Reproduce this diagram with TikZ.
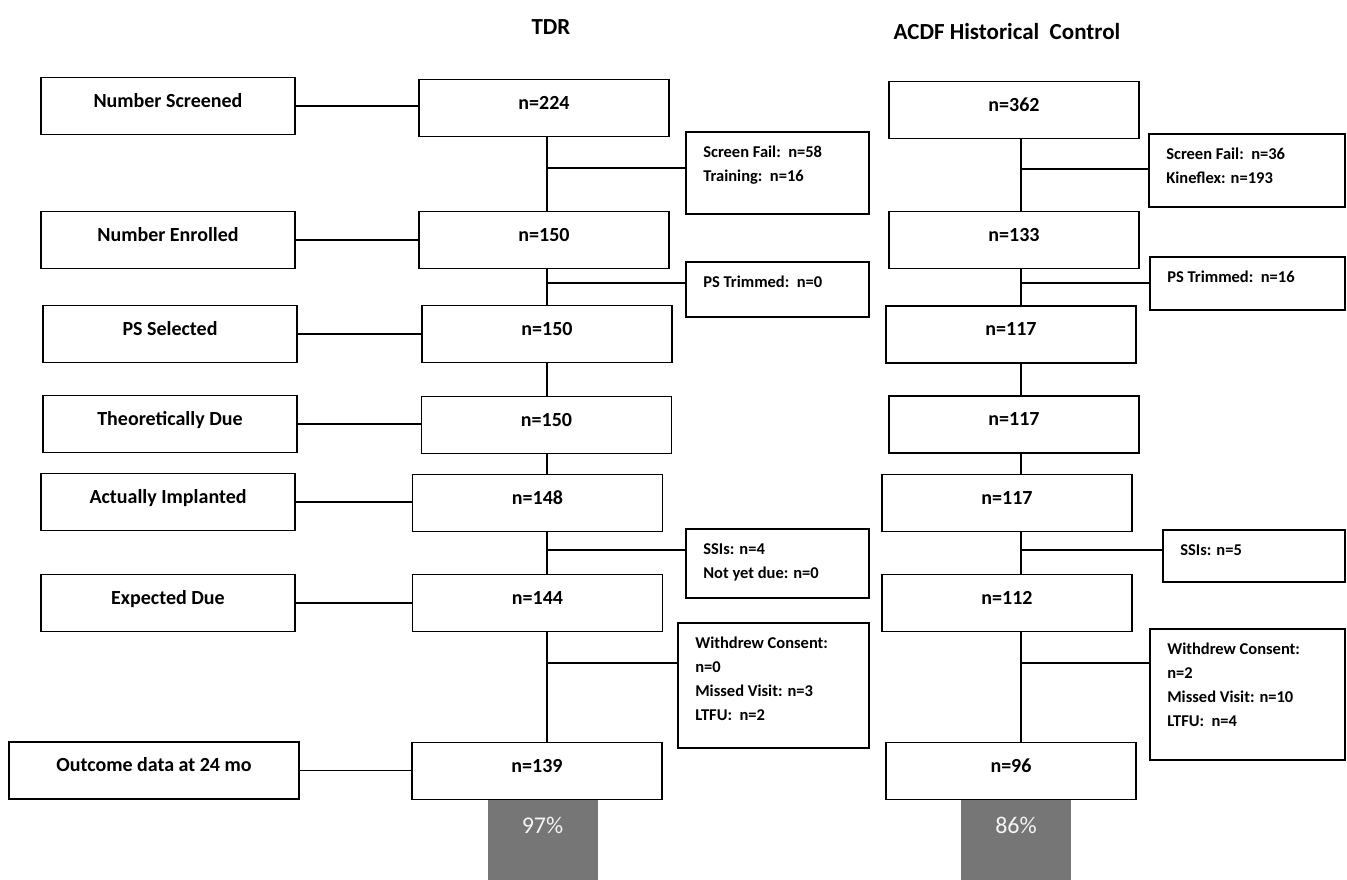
\documentclass[tikz,border=0pt]{standalone}
\usepackage{fontspec}
\setmainfont{Carlito}
\definecolor{barfill}{HTML}{767676}
\definecolor{pctfg}{HTML}{F4F4F4}

\tikzset{
  flowbox/.style={draw=black, line width=1.8pt, fill=white, inner sep=0pt,
    text height=13pt, text depth=10.2pt, font=\fontsize{20}{24}\selectfont\bfseries},
  stagebox/.style={flowbox, minimum width=254pt, minimum height=57pt},
  countbox/.style={flowbox, minimum width=250pt, minimum height=57pt},
  sidebox/.style={draw=black, line width=1.8pt, fill=white, inner sep=0pt},
  sidetext/.style={anchor=north west, inner sep=0pt, align=left, xshift=18pt, yshift=-15pt,
    font=\fontsize{16.5}{24}\selectfont\bfseries},
  pctbar/.style={fill=barfill, inner sep=0pt, minimum width=110pt, minimum height=81pt,
    text=pctfg, text height=15pt, text depth=27pt, font=\fontsize{24}{28}\selectfont},
  heading/.style={inner sep=0pt, font=\fontsize{23}{26}\selectfont\bfseries},
  link/.style={line width=1.8pt}
}

\begin{document}
\begin{tikzpicture}[x=1pt, y=-1pt]

  \fill[white] (0,0) rectangle (1347,880);

  % column headings
  \node[heading] (htdr) at (551,27) {TDR};
  \node[heading] (hacdf) at (1007,32) {ACDF Historical\ \ Control};

  % percentage bars under the last boxes
  \node[pctbar] (tp) at (542.5,839.5) {97\%};
  \node[pctbar] (ap) at (1016,839.5) {86\%};

  % stage labels
  \node[stagebox] (l1) at (168,106) {Number Screened};
  \node[stagebox] (l2) at (168,240) {Number Enrolled};
  \node[stagebox] (l3) at (170,334) {PS Selected};
  \node[stagebox] (l4) at (170,424) {Theoretically Due};
  \node[stagebox] (l5) at (168,502) {Actually Implanted};
  \node[stagebox] (l6) at (168,603) {Expected Due};
  \node[stagebox, minimum width=290pt] (l7) at (154,770.5) {Outcome data at 24 mo};

  % TDR counts
  \node[countbox] (t1) at (544,108) {n=224};
  \node[countbox] (t2) at (544,240) {n=150};
  \node[countbox] (t3) at (547,334) {n=150};
  \node[countbox] (t4) at (546.5,425) {n=150};
  \node[countbox] (t5) at (537.5,503) {n=148};
  \node[countbox] (t6) at (537.5,603) {n=144};
  \node[countbox] (t7) at (537,771) {n=139};

  % ACDF counts
  \node[countbox] (a1) at (1014,110) {n=362};
  \node[countbox] (a2) at (1014,240) {n=133};
  \node[countbox] (a3) at (1011,334.5) {n=117};
  \node[countbox] (a4) at (1014,424.5) {n=117};
  \node[countbox] (a5) at (1007,503) {n=117};
  \node[countbox] (a6) at (1007,603) {n=112};
  \node[countbox] (a7) at (1011,771) {n=96};

  % TDR exclusions
  \node[sidebox, minimum width=183pt, minimum height=82pt,
    label={[sidetext]north west:{Screen Fail:\ \ n=58\\Training:\ \ n=16}}] (s1) at (777.5,173) {};
  \node[sidebox, minimum width=183pt, minimum height=55pt,
    label={[sidetext]north west:{PS Trimmed:\ \ n=0}}] (s2) at (777.5,289.5) {};
  \node[sidebox, minimum width=183pt, minimum height=69pt,
    label={[sidetext]north west:{SSIs: n=4\\Not yet due: n=0}}] (s3) at (777.5,563.5) {};
  \node[sidebox, minimum width=191pt, minimum height=125pt,
    label={[sidetext]north west:{Withdrew Consent:\\n=0\\Missed Visit: n=3\\LTFU:\ \ n=2}}] (s4) at (773.5,685.5) {};

  % ACDF exclusions
  \node[sidebox, minimum width=196pt, minimum height=73pt,
    label={[sidetext]north west:{Screen Fail:\ \ n=36\\Kineflex: n=193}}] (r1) at (1247,170.5) {};
  \node[sidebox, minimum width=195pt, minimum height=53pt,
    label={[sidetext]north west:{PS Trimmed:\ \ n=16}}] (r2) at (1247.5,283.5) {};
  \node[sidebox, minimum width=182pt, minimum height=52pt,
    label={[sidetext]north west:{SSIs: n=5}}] (r3) at (1254,556) {};
  \node[sidebox, minimum width=195pt, minimum height=131pt,
    label={[sidetext]north west:{Withdrew Consent:\\n=2\\Missed Visit: n=10\\LTFU:\ \ n=4}}] (r4) at (1247.5,694.5) {};

  % trunks and branch points
  \coordinate (tx) at (547,0);
  \coordinate (ax) at (1021,0);
  \coordinate (tb1) at (547,168);
  \coordinate (tb2) at (547,283);
  \coordinate (tb3) at (547,550);
  \coordinate (tb4) at (547,663);
  \coordinate (ab1) at (1021,169);
  \coordinate (ab2) at (1021,283);
  \coordinate (ab3) at (1021,550);
  \coordinate (ab4) at (1021,663);

  % stage labels to TDR counts
  \draw[link] (l1.east) -- (l1.east -| t1.west);
  \draw[link] (l2.east) -- (l2.east -| t2.west);
  \draw[link] (l3.east) -- (l3.east -| t3.west);
  \draw[link] (l4.east) -- (l4.east -| t4.west);
  \draw[link] (l5.east) -- (l5.east -| t5.west);
  \draw[link] (l6.east) -- (l6.east -| t6.west);
  \draw[link] (l7.east) -- (l7.east -| t7.west);

  % TDR flow
  \draw[link] (t1.south -| tx) -- (t2.north -| tx);
  \draw[link] (t2.south -| tx) -- (t3.north -| tx);
  \draw[link] (t3.south -| tx) -- (t4.north -| tx);
  \draw[link] (t4.south -| tx) -- (t5.north -| tx);
  \draw[link] (t5.south -| tx) -- (t6.north -| tx);
  \draw[link] (t6.south -| tx) -- (t7.north -| tx);
  \draw[link] (tb1) -- (tb1 -| s1.west);
  \draw[link] (tb2) -- (tb2 -| s2.west);
  \draw[link] (tb3) -- (tb3 -| s3.west);
  \draw[link] (tb4) -- (tb4 -| s4.west);

  % ACDF flow
  \draw[link] (a1.south -| ax) -- (a2.north -| ax);
  \draw[link] (a2.south -| ax) -- (a3.north -| ax);
  \draw[link] (a3.south -| ax) -- (a4.north -| ax);
  \draw[link] (a4.south -| ax) -- (a5.north -| ax);
  \draw[link] (a5.south -| ax) -- (a6.north -| ax);
  \draw[link] (a6.south -| ax) -- (a7.north -| ax);
  \draw[link] (ab1) -- (ab1 -| r1.west);
  \draw[link] (ab2) -- (ab2 -| r2.west);
  \draw[link] (ab3) -- (ab3 -| r3.west);
  \draw[link] (ab4) -- (ab4 -| r4.west);

\end{tikzpicture}
\end{document}
